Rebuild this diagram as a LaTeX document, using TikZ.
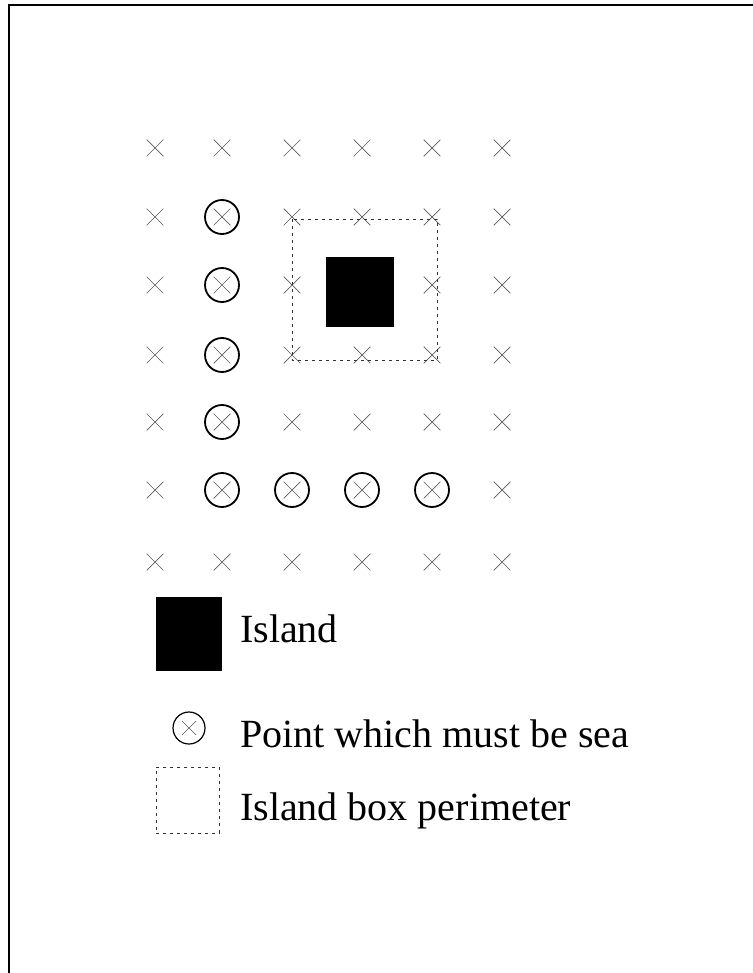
\documentclass[tikz,border=0pt]{standalone}
\usepackage{fontspec}
\setmainfont{Liberation Serif}
\usetikzlibrary{shapes.misc}
\begin{document}
\begin{tikzpicture}[x=1pt,y=-1pt,
  xmark/.style={cross out, draw=black!65, line width=0.7pt, minimum size=16pt, inner sep=0pt},
  smallxmark/.style={cross out, draw=black!65, line width=0.6pt, minimum size=13pt, inner sep=0pt},
  seapt/.style={circle, draw=black, line width=1.8pt, minimum size=34pt, inner sep=0pt},
  legsea/.style={circle, draw=black, line width=1.2pt, minimum size=32pt, inner sep=0pt},
  islandbox/.style={fill=black, draw=none},
  perim/.style={draw=black!80, line width=0.9pt, dash pattern=on 3pt off 4pt},
  frameline/.style={draw=black, line width=2.2pt},
  legtext/.style={anchor=base west, inner sep=0pt, font=\fontsize{40}{44}\selectfont}]
\useasboundingbox (0,0) rectangle (752,973);
% frame (cropped: only top and left sides visible)
\coordinate (fbl) at (9,975);
\coordinate (ftl) at (9,5);
\coordinate (ftr) at (754,5);
\draw[frameline] (fbl) -- (ftl) -- (ftr);
% grid of points
\foreach \xx [count=\i from 0] in {155,222,292,362,432,502}{
  \foreach \yy [count=\j from 0] in {148,217,285,355,422,490,562}{
    \node[xmark] (g-\i-\j) at (\xx,\yy) {};
  }
}
% points which must be sea
\foreach \i/\j in {1/1,1/2,1/3,1/4,1/5,2/5,3/5,4/5}{
  \node[seapt] (s-\i-\j) at (g-\i-\j) {};
}
% island box perimeter
\draw[perim] (292,219) rectangle (437,360);
% island
\fill[black] (326,257) rectangle (394,327);
% legend
\node[islandbox, minimum width=66pt, minimum height=74pt, inner sep=0pt, anchor=north west] (legisland) at (156,597) {};
\node[legtext] (tisland) at (240,642) {Island};
\node[smallxmark] (legx) at (189,728) {};
\node[legsea] (legcirc) at (legx) {};
\node[legtext] (tsea) at (240,747) {Point which must be sea};
\node[perim, minimum width=63pt, minimum height=66pt, inner sep=0pt, anchor=north west] (legperim) at (156,767) {};
\node[legtext] (tperim) at (240,820) {Island box perimeter};
\end{tikzpicture}
\end{document}
